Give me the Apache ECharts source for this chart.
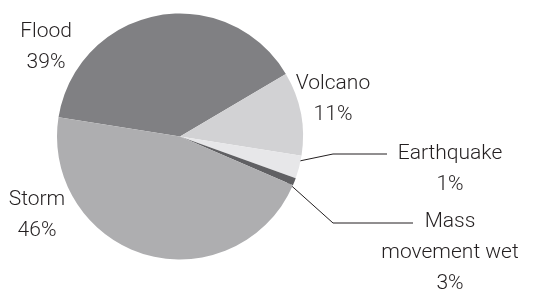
<!DOCTYPE html>
<html>
<head>
<meta charset="utf-8">
<script src="https://cdn.jsdelivr.net/npm/echarts@6/dist/echarts.min.js"></script>
<style>
  html, body { margin: 0; padding: 0; background: #fff; }
  #chart { width: 548px; height: 291px; }
</style>
</head>
<body>
<div id="chart"></div>
<script>
// disaster types, drawn clockwise from the left edge
const categories = ['Flood', 'Volcano', 'Earthquake', 'Mass\nmovement wet', 'Storm']
const sliceValues = [39, 11, 3, 1, 46]
const labelTexts = ['39%', '11%', '1%', '3%', '46%']
const sliceColors = ['#808083', '#d2d2d4', '#e7e7e9', '#606063', '#aeaeb0']

// where each label sits (text centre), and leader lines for the small slices
const labelSpots = [[46, 47], [333, 99], [450, 169], [450, 253], [37, 215]]
const leaderLines = [null, null, [[285, 164], [333, 154], [387, 154]], [[285, 180], [333, 223], [413, 223]], null]

const chart = echarts.init(document.getElementById('chart'))

chart.setOption({
  animation: false,
  series: [{
    type: 'pie',
    center: [180, 136.5],
    radius: 123,
    startAngle: 171,
    clockwise: true,
    data: categories.map((name, i) => ({
      name: name,
      value: sliceValues[i],
      itemStyle: { color: sliceColors[i] },
      labelLine: { show: !!leaderLines[i] }
    })),
    label: {
      show: true,
      position: 'outside',
      formatter: p => p.name + '\n' + labelTexts[p.dataIndex],
      fontFamily: 'Roboto',
      fontWeight: 300,
      fontSize: 21,
      lineHeight: 31,
      color: '#231f20',
      align: 'center'
    },
    labelLine: {
      show: true,
      lineStyle: { color: '#231f20', width: 1 }
    },
    labelLayout: params => {
      const i = params.dataIndex
      const out = {
        x: labelSpots[i][0],
        y: labelSpots[i][1],
        align: 'center',
        verticalAlign: 'middle'
      }
      if (leaderLines[i]) out.labelLinePoints = leaderLines[i]
      return out
    }
  }]
})
</script>
</body>
</html>
